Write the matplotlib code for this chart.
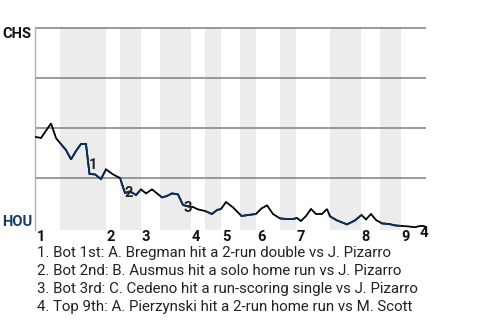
"""Win probability chart: CHS at Houston, shaded bottom halves of innings."""

import matplotlib

matplotlib.use("Agg")
import matplotlib.pyplot as plt
from matplotlib.patches import Rectangle

plt.rcParams["font.family"] = ["Roboto", "DejaVu Sans"]

OUT = "out.png"
NAVY = "#0b2f5e"

# game progress (0 = first pitch, 390 = last out) vs CHS win probability (%)
progress = [0, 5, 15, 20, 24, 30, 35, 40, 45, 50, 53.5, 59, 65, 70, 77, 84,
            89, 94, 100, 105, 110, 116, 126, 131, 136, 142, 147, 152, 157, 162,
            169, 176, 181, 185, 190, 197, 205.5, 212, 220, 225.5, 231, 237,
            244, 250.5, 257, 261, 265, 270, 275, 280, 286, 291, 294, 301, 311,
            319, 325.5, 330, 335, 340, 346, 353, 359, 366, 372, 379, 384, 388,
            390]
chs_wp = [45.5, 45, 52.3, 45, 42.5, 39, 34.3, 38.5, 42, 42, 27, 26.8, 24.5,
          29.3, 26.8, 25, 17.5, 18.3, 16.5, 19.3, 17.3, 19.3, 15.3, 16, 17.3,
          16.8, 11.5, 10.8, 10.5, 9.3, 8.5, 7, 9, 9.5, 13, 10.3, 6, 6.5, 7,
          9.8, 11.3, 7, 4.8, 4.5, 4.5, 5, 3.5, 6, 9.5, 7, 7, 9.5, 5.8, 3.8,
          1.8, 3.8, 6.5, 4.3, 7, 4, 2.3, 2, 1.3, 1, 0.8, 0.4, 1, 1, 0]

inning_start = [0, 70, 105, 155, 185, 220, 260, 325, 365]
bottom_start = [24, 84, 124, 169, 204, 244, 294, 344]
inning_names = ["1", "2", "3", "4", "5", "6", "7", "8", "9"]
game_end = 390

# key plays: (label, x, y) where the marker number sits
play_labels = ["1", "2", "3"]
play_x = [57.5, 93, 152]
play_y = [31.5, 17.5, 10]
notes = [
    "1. Bot 1st: A. Bregman hit a 2-run double vs J. Pizarro",
    "2. Bot 2nd: B. Ausmus hit a solo home run vs J. Pizarro",
    "3. Bot 3rd: C. Cedeno hit a run-scoring single vs J. Pizarro",
    "4. Top 9th: A. Pierzynski hit a 2-run home run vs M. Scott",
]


def main() -> None:
    fig = plt.figure(figsize=(4.8, 3.2), dpi=100)
    ax = fig.add_axes([35 / 480, 90 / 320, 391 / 480, 203 / 320])
    ax.set_xlim(-1, game_end)
    ax.set_ylim(-1, 100.5)

    # bottom halves (HOU batting) shaded, end of each half = next inning start
    ends = inning_start[1:]
    for b0, b1 in zip(bottom_start, ends):
        ax.axvspan(b0, b1, color="#ececec", lw=0, zorder=0)

    for yv in (25, 50, 75, 100):
        ax.axhline(yv, color="#808080", lw=1.1, zorder=1)

    ax.plot(progress, chs_wp, color="black", lw=1.3, zorder=3,
            solid_joinstyle="miter")
    for b0, b1 in zip(bottom_start, ends):
        seg, = ax.plot(progress, chs_wp, color=NAVY, lw=1.3, zorder=4,
                       solid_joinstyle="miter")
        seg.set_clip_path(Rectangle((b0, -1), b1 - b0, 102, transform=ax.transData))

    for s in ("top", "right", "bottom"):
        ax.spines[s].set_visible(False)
    ax.spines["left"].set_color("#b0b0b0")
    ax.spines["left"].set_linewidth(1)
    ax.set_xticks([])
    ax.set_yticks([])

    fig.text(2 / 480, 1 - 34 / 320, "CHS", fontsize=10.5, fontweight="bold",
             color="#111111", va="center", ha="left")
    fig.text(2 / 480, 1 - 222.5 / 320, "HOU", fontsize=10.5, fontweight="bold",
             color="#153a6b", va="center", ha="left")

    for x0, name in zip(inning_start, inning_names):
        ax.text(x0 + 5, -4.5, name, fontsize=10.5, fontweight="bold",
                color="#111111", ha="center", va="center", clip_on=False)

    for lab, px, py in zip(play_labels, play_x, play_y):
        ax.text(px, py, lab, fontsize=10.5, fontweight="bold", color="#222222",
                ha="center", va="center", zorder=5)
    ax.text(game_end - 2, -2.5, "4", fontsize=11, fontweight="bold",
            color="#111111", ha="center", va="center", clip_on=False, zorder=5)

    for i, line in enumerate(notes):
        fig.text(37 / 480, 1 - (253 + 18 * i) / 320, line, fontsize=10.8,
                 color="#222222", va="center", ha="left")

    fig.savefig(OUT, dpi=100)


if __name__ == "__main__":
    main()
